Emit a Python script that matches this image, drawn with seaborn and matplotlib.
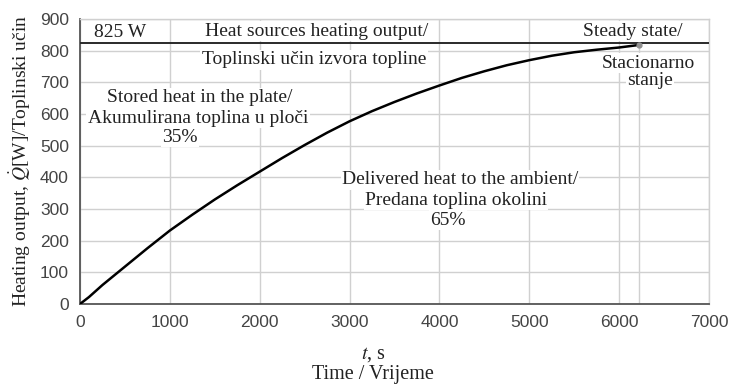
import numpy as np
import pandas as pd
import matplotlib
matplotlib.use("Agg")
import matplotlib.pyplot as plt
import seaborn as sns

# Measured heating output of the plate over time
time_s = [0, 100, 250, 500, 750, 1000, 1250, 1500, 1750, 2000, 2250, 2500,
          2750, 3000, 3250, 3500, 3750, 4000, 4250, 4500, 4750, 5000, 5250,
          5500, 5750, 6000, 6220]
heat_w = [0, 22, 60, 118, 176, 232, 282, 330, 375, 418, 461, 502,
          541, 577, 609, 638, 665, 690, 714, 735, 754, 770, 784,
          795, 803, 810, 818]

source_power = 825          # W, heat sources heating output
steady_time = 6220          # s, steady state reached
x_ticks = [0, 1000, 2000, 3000, 4000, 5000, 6000, 7000]
y_ticks = [0, 100, 200, 300, 400, 500, 600, 700, 800, 900]

df = pd.DataFrame({"t": time_s, "Q": heat_w})

sns.set_theme(style="whitegrid")
plt.rcParams["font.family"] = ["Liberation Serif", "DejaVu Serif"]
plt.rcParams["mathtext.fontset"] = "stix"

fig = plt.figure(figsize=(7.3, 3.89), dpi=100)
ax = fig.add_axes([80 / 730, 1 - 304 / 389, 629 / 730, 285 / 389])

grid_c = "#d0d0d0"
ax.set_xlim(0, 7000)
ax.set_ylim(0, 900)
ax.set_xticks(x_ticks)
ax.set_yticks(y_ticks)
ax.grid(True, color=grid_c, linewidth=1.0)
ax.set_axisbelow(True)

for side in ("top", "right"):
    ax.spines[side].set_color(grid_c)
    ax.spines[side].set_linewidth(1.0)
for side in ("left", "bottom"):
    ax.spines[side].set_color("#555555")
    ax.spines[side].set_linewidth(1.3)

ax.tick_params(axis="both", which="both", direction="out", length=4, width=1.2,
               color="#555555", labelcolor="#444444", labelsize=12.5, pad=4)
for lab in ax.get_xticklabels() + ax.get_yticklabels():
    lab.set_fontfamily("Liberation Sans")

# Steady-state marker line
ax.plot([steady_time, steady_time], [0, heat_w[-1]], color=grid_c, lw=1.0, zorder=1)

# Heat source output and heating curve
ax.plot([0, 7000], [source_power, source_power], color="#2a2a2a", lw=1.4, zorder=3)
sns.lineplot(data=df, x="t", y="Q", ax=ax, color="black", lw=1.8, zorder=4)
ax.plot([steady_time], [heat_w[-1]], "o", color="#909090", ms=3.5, zorder=5)

ax.set_xlabel("")
ax.set_ylabel(r"Heating output, $\dot{Q}$[W]/Toplinski učin", fontsize=14,
              color="#222222", labelpad=5)

box = dict(facecolor="white", edgecolor="none", pad=1.0)
tk = dict(fontsize=14, color="#222222", ha="center", va="center",
          bbox=box, zorder=2)

annotations = [
    (445, 856, "825 W"),
    (2637, 862, "Heat sources heating output/"),
    (2604, 771, "Toplinski učin izvora topline"),
    (1335, 651, "Stored heat in the plate/"),
    (1313, 587, "Akumulirana toplina u ploči"),
    (1113, 527, "35%"),
    (4229, 392, "Delivered heat to the ambient/"),
    (4184, 328, "Predana toplina okolini"),
    (4095, 265, "65%"),
    (6154, 862, "Steady state/"),
    (6321, 761, "Stacionarno"),
    (6343, 707, "stanje"),
]
for x, y, s in annotations:
    ax.text(x, y, s, **tk)

fig.text(373 / 730, 1 - 354 / 389, r"$t$, s", fontsize=14.5, ha="center",
         va="center", color="#222222")
fig.text(373 / 730, 1 - 374 / 389, "Time / Vrijeme", fontsize=14.5, ha="center",
         va="center", color="#222222")

fig.savefig("out.png", dpi=100)
